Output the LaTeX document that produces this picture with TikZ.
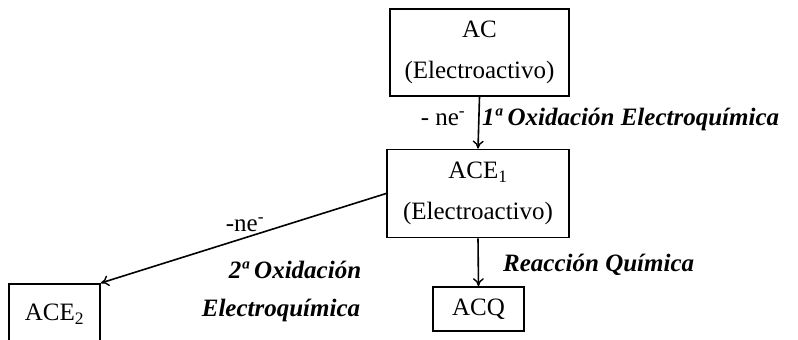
\documentclass[tikz,border=0pt]{standalone}
\usepackage{fontspec}
\setmainfont{Liberation Serif}
\usetikzlibrary{arrows.meta}
\begin{document}
\begin{tikzpicture}[x=1pt,y=1pt,
  every node/.style={font=\fontsize{25}{41}\selectfont},
  box/.style={draw, line width=1.7pt, align=center, inner sep=0pt},
  conn/.style={line width=1.6pt, -{To[length=8pt,width=11pt,line width=1.4pt]}},
  lbl/.style={font=\fontsize{25}{30}\selectfont\bfseries\itshape, inner sep=0pt},
  elab/.style={font=\fontsize{25}{30}\selectfont, inner sep=0pt}]
\clip (0,0) rectangle (798,-340);
\useasboundingbox (0,0) rectangle (798,-340);
% boxes
\node[box, minimum width=179, minimum height=87] (AC) at (479.5,-52.5) {AC\\(Electroactivo)};
\node[box, minimum width=182, minimum height=88] (ACE1) at (478,-193.5) {ACE\textsubscript{1}\\(Electroactivo)};
\node[box, minimum width=91, minimum height=44] (ACQ) at (478.5,-309) {ACQ};
\node[box, anchor=north, minimum width=91, text height=37pt, text depth=32pt] (ACE2) at (54.5,-283) {ACE\textsubscript{2}};
% connectors
\draw[conn] (AC.south) -- (ACE1.north);
\draw[conn] (ACE1.south) -- (ACQ.north);
\draw[conn] (ACE1.west) -- (ACE2.north east);
% labels
\node[elab] (l1) at (443,-119) {- ne\textsuperscript{-}};
\node[lbl, anchor=west] (t1) at (482,-119) {1ª Oxidación Electroquímica};
\node[elab] (l2) at (245,-225) {-ne\textsuperscript{-}};
\node[lbl] (t2a) at (295,-270) {2ª Oxidación};
\node[lbl] (t2b) at (281,-310) {Electroquímica};
\node[lbl, anchor=west] (t3) at (503,-265) {Reacción Química};
\end{tikzpicture}
\end{document}
